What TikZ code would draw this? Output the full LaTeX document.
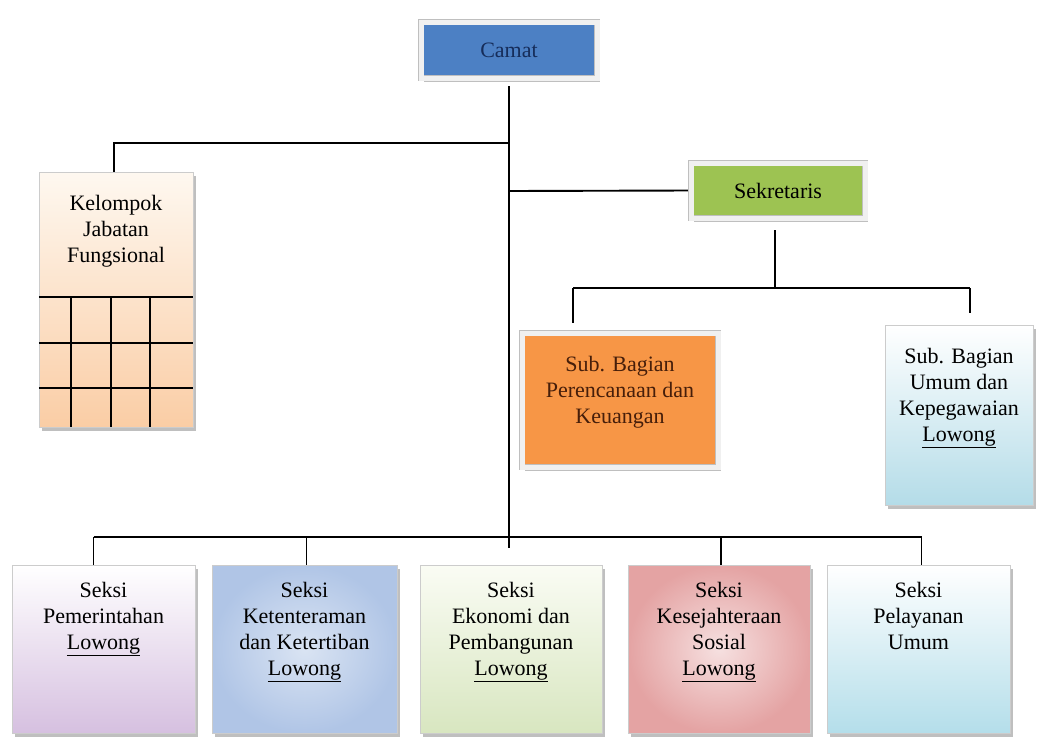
\documentclass[tikz,border=0pt]{standalone}
\usepackage{fontspec}
\setmainfont{Liberation Serif}
\usetikzlibrary{calc,positioning,shadows}

\definecolor{camatblue}{RGB}{76,128,196}
\definecolor{camattext}{RGB}{22,45,90}
\definecolor{sekgreen}{RGB}{157,195,82}
\definecolor{bagorange}{RGB}{247,150,70}
\definecolor{bagtext}{RGB}{70,30,10}
\definecolor{kjftop}{RGB}{254,248,240}
\definecolor{kjfbot}{RGB}{250,205,165}
\definecolor{sbublue}{RGB}{180,220,232}
\definecolor{pemlilac}{RGB}{214,192,224}
\definecolor{ketlight}{RGB}{218,228,243}
\definecolor{ketblue}{RGB}{176,197,230}
\definecolor{ekotop}{RGB}{250,252,244}
\definecolor{ekobot}{RGB}{216,230,192}
\definecolor{keslight}{RGB}{246,224,224}
\definecolor{kesred}{RGB}{228,163,163}
\definecolor{pelblue}{RGB}{180,222,234}

\newcommand{\boxfont}{\fontsize{22}{26}\selectfont}

\tikzset{
  unit/.style={draw=black!20, line width=0.5pt, inner sep=0pt,
    drop shadow={shadow xshift=3pt, shadow yshift=-4pt, fill=black!50, opacity=.5}},
  framed/.style={unit, draw=black!25, double=white!94!black, double distance=5pt},
  txt/.style={align=center, inner sep=0pt, font=\boxfont},
  conn/.style={line width=1.9pt}
}

\begin{document}
\begin{tikzpicture}[x=1pt,y=-1pt]
\useasboundingbox[fill=white] (0,0) rectangle (1040,736);

% head and secretary
\node[framed, fill=camatblue, minimum width=176pt, minimum height=56pt, font=\boxfont, text=camattext] (camat) at (509,50) {Camat};
\node[framed, fill=sekgreen, minimum width=174pt, minimum height=55pt, font=\boxfont] (sek) at (778,190.5) {Sekretaris};

% functional group
\node[unit, top color=kjftop, bottom color=kjfbot, minimum width=154pt, minimum height=255pt] (kjf) at (116,299.5) {};
\node[txt, below=23pt of kjf.north] (kjf-t) {Kelompok\\Jabatan\\Fungsional};
\foreach \dy in {125,171,216}
  \draw[conn] ($(kjf.north west)+(0,\dy)$) -- ($(kjf.north east)+(0,\dy)$);
\foreach \dx in {32,72,111}
  \draw[conn] ($(kjf.north west)+(\dx,125)$) -- ($(kjf.south west)+(\dx,0)$);

% sub sections
\node[framed, fill=bagorange, minimum width=196pt, minimum height=134pt] (sbp) at (620,400) {};
\node[txt, text=bagtext, below=23pt of sbp.north] (sbp-t) {Sub. Bagian\\Perencanaan dan\\Keuangan};

\node[unit, top color=white, bottom color=sbublue, minimum width=148pt, minimum height=180pt] (sbu) at (959,415) {};
\node[txt, below=23pt of sbu.north] (sbu-t) {Sub. Bagian\\Umum dan\\Kepegawaian\\\underline{Lowong}};

% sections
\node[unit, top color=white, bottom color=pemlilac, minimum width=183pt, minimum height=168pt] (pem) at (103.5,649) {};
\node[txt, below=17pt of pem.north] (pem-t) {Seksi\\Pemerintahan\\\underline{Lowong}};

\node[unit, inner color=ketlight, outer color=ketblue, minimum width=185pt, minimum height=168pt] (ket) at (304.5,649) {};
\node[txt, below=17pt of ket.north] (ket-t) {Seksi\\Ketenteraman\\dan Ketertiban\\\underline{Lowong}};

\node[unit, top color=ekotop, bottom color=ekobot, minimum width=182pt, minimum height=168pt] (eko) at (511,649) {};
\node[txt, below=17pt of eko.north] (eko-t) {Seksi\\Ekonomi dan\\Pembangunan\\\underline{Lowong}};

\node[unit, inner color=keslight, outer color=kesred, minimum width=182pt, minimum height=168pt] (kes) at (719,649) {};
\node[txt, below=17pt of kes.north] (kes-t) {Seksi\\Kesejahteraan\\Sosial\\\underline{Lowong}};

\node[unit, top color=white, bottom color=pelblue, minimum width=183pt, minimum height=168pt] (pel) at (918.5,649) {};
\node[txt, below=17pt of pel.north] (pel-t) {Seksi\\Pelayanan\\Umum};

% lines
\coordinate (top) at (509,143);
\coordinate (sekj) at (509,191);
\coordinate (bus) at (509,537);
\coordinate (trunkend) at (509,548);
\draw[conn, shorten <=8pt] (camat.south) -- (trunkend);
\draw[conn] (top) -| ([xshift=-2pt]kjf.north);
\draw[conn, shorten >=3pt] (sekj) -- (sek.west);

\coordinate (sbj) at ($(sek.south)+(-3,70)$);
\coordinate (sbl) at (573,288);
\coordinate (sbr) at (970,288);
\draw[conn, shorten <=12pt] ([xshift=-3pt]sek.south) -- (sbj);
\draw[conn] (sbl) -- (sbr);
\draw[conn, shorten >=10pt] (sbl) -- (sbl |- sbp.north);
\draw[conn, shorten >=12pt] (sbr) -- (sbr |- sbu.north);

\coordinate (bl) at ($(pem.north |- bus)+(-10,0)$);
\coordinate (br) at ($(pel.north |- bus)+(3,0)$);
\draw[conn] (bl) -- (br);
\draw[conn] (bl) -- (bl |- pem.north);
\draw[conn] ([xshift=2pt]ket.north |- bus) -- ([xshift=2pt]ket.north);
\draw[conn] ([xshift=2pt]kes.north |- bus) -- ([xshift=2pt]kes.north);
\draw[conn] (br) -- (br |- pel.north);

\end{tikzpicture}
\end{document}
